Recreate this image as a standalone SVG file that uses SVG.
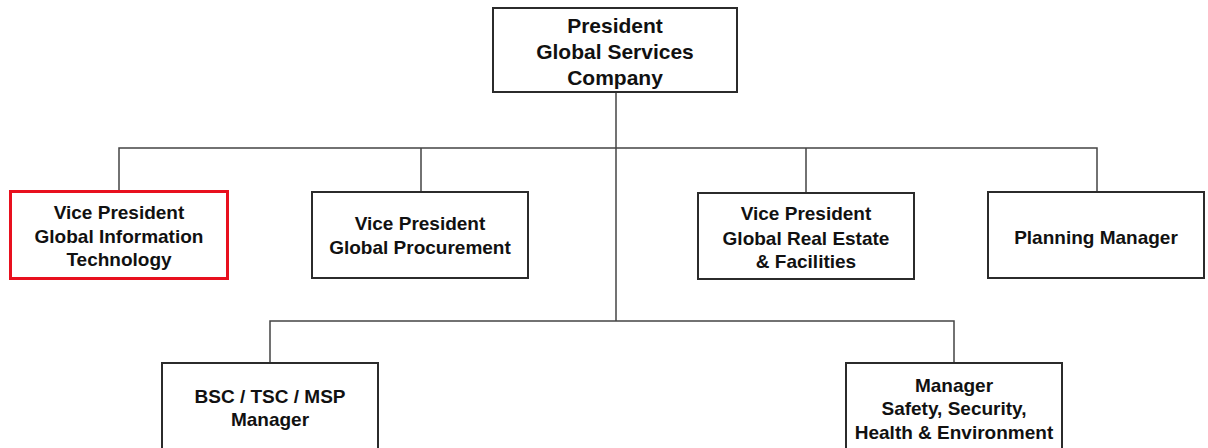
<svg xmlns="http://www.w3.org/2000/svg" width="1208" height="448" viewBox="0 0 1208 448">
<style>
.box{fill:#fff;stroke:#2b2b2b;stroke-width:2}
.hl{fill:#fff;stroke:#e8101e;stroke-width:3}
.t{font-family:"Liberation Sans",Arial,sans-serif;font-weight:bold;font-size:19px;fill:#111;text-anchor:middle}
.tt{font-size:21px}
.c{fill:none;stroke:#444;stroke-width:1.5}
</style>
<rect width="1208" height="448" fill="#fff"/>
<g id="connectors">
<path class="c" d="M616 92 V321"/>
<path class="c" d="M119 190 V148 H1097 V192"/>
<path class="c" d="M421 148 V192 M806 148 V193"/>
<path class="c" d="M270 363 V321 H954 V363"/>
</g>
<g id="president">
<rect class="box" x="493" y="8" width="244" height="84"/>
<text class="t tt" x="615" y="33">President</text>
<text class="t tt" x="615" y="59">Global Services</text>
<text class="t tt" x="615" y="85">Company</text>
</g>
<g id="vp-it">
<rect class="hl" x="10.5" y="191.5" width="217" height="87"/>
<text class="t" x="119" y="219">Vice President</text>
<text class="t" x="119" y="243">Global Information</text>
<text class="t" x="119" y="266">Technology</text>
</g>
<g id="vp-procurement">
<rect class="box" x="312" y="192" width="216" height="86"/>
<text class="t" x="420" y="230">Vice President</text>
<text class="t" x="420" y="254">Global Procurement</text>
</g>
<g id="vp-realestate">
<rect class="box" x="698" y="193" width="216" height="86"/>
<text class="t" x="806" y="220">Vice President</text>
<text class="t" x="806" y="245">Global Real Estate</text>
<text class="t" x="806" y="268">&amp; Facilities</text>
</g>
<g id="planning">
<rect class="box" x="988" y="192" width="216" height="86"/>
<text class="t" x="1096" y="244">Planning Manager</text>
</g>
<g id="bsc">
<rect class="box" x="162" y="363" width="216" height="100"/>
<text class="t" x="270" y="403">BSC / TSC / MSP</text>
<text class="t" x="270" y="426">Manager</text>
</g>
<g id="safety">
<rect class="box" x="846" y="363" width="216" height="100"/>
<text class="t" x="954" y="392">Manager</text>
<text class="t" x="954" y="415">Safety, Security,</text>
<text class="t" x="954" y="439">Health &amp; Environment</text>
</g>
</svg>
